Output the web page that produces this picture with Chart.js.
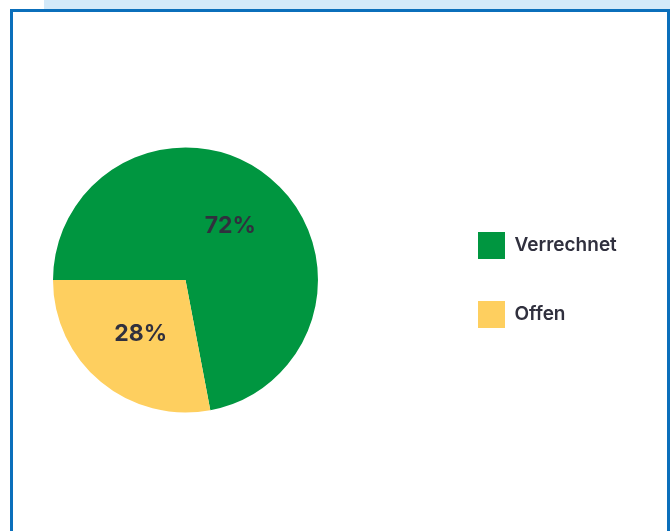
<!DOCTYPE html>
<html>
<head>
<meta charset="utf-8">
<script src="https://cdn.jsdelivr.net/npm/chart.js@4/dist/chart.umd.min.js"></script>
<style>
  html, body { margin: 0; padding: 0; background: #fff; }
  body { width: 670px; height: 531px; position: relative; overflow: hidden; }
  .strip { position: absolute; left: 44px; top: 0; width: 626px; height: 9px; background: #d3e9f9; }
  .frame { position: absolute; left: 10px; top: 9px; width: 654px; height: 540px;
           border: 3px solid #0b6fbb; border-bottom: none; background: #fff; }
  .wrap { position: absolute; left: 0; top: 0; width: 670px; height: 531px; overflow: hidden; }
  /* canvas is shifted left so the pie sits where the reference has it */
  .box { position: absolute; left: -65px; top: 0; width: 735px; height: 531px; }
</style>
</head>
<body>
<div class="strip"></div>
<div class="frame"></div>
<div class="wrap">
  <div class="box"><canvas id="chart"></canvas></div>
</div>
<script>
// share of invoices, in percent
const categories = ['Verrechnet', 'Offen'];
const shares = [72, 28];
const colors = ['#009640', '#fecf5f'];

const TEXT = '#30303e';

// percent labels in the middle of each slice
const sliceLabels = {
  id: 'sliceLabels',
  afterDatasetsDraw(chart) {
    const { ctx } = chart;
    const meta = chart.getDatasetMeta(0);
    ctx.save();
    ctx.font = 'bold 23px Inter, "Noto Sans", sans-serif';
    ctx.fillStyle = TEXT;
    ctx.textAlign = 'center';
    ctx.textBaseline = 'middle';
    meta.data.forEach((arc, i) => {
      const mid = (arc.startAngle + arc.endAngle) / 2;
      const r = arc.outerRadius * 0.53;
      ctx.fillText(shares[i] + '%', arc.x + Math.cos(mid) * r, arc.y + Math.sin(mid) * r);
    });
    ctx.restore();
  }
};

new Chart(document.getElementById('chart'), {
  type: 'pie',
  data: {
    labels: categories,
    datasets: [{
      data: shares,
      backgroundColor: colors,
      borderWidth: 0,
      hoverOffset: 0,
    }]
  },
  options: {
    responsive: true, maintainAspectRatio: false,
    animation: false,
    rotation: 270,
    layout: { padding: { left: 0, right: 48, top: 147.5, bottom: 118.5 } },
    plugins: {
      legend: {
        position: 'right',
        align: 'center',
        maxWidth: 186,
        labels: {
          boxWidth: 27, boxHeight: 27, padding: 42,
          color: TEXT,
          font: { family: 'Inter, "Noto Sans", sans-serif', size: 19, weight: '600' },
        }
      },
      tooltip: { enabled: false },
    }
  },
  plugins: [sliceLabels]
});
</script>
</body>
</html>
